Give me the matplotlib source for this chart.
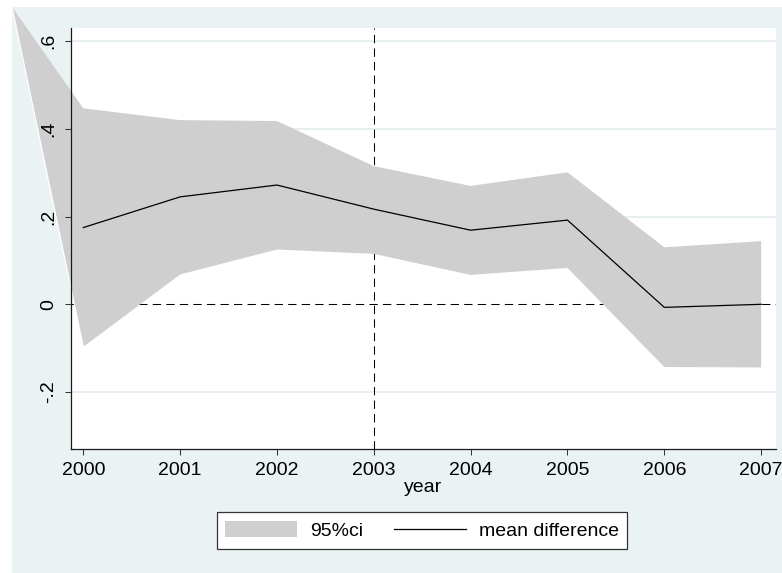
import matplotlib
matplotlib.use("Agg")
import matplotlib.pyplot as plt
from matplotlib.patches import Rectangle, Patch
from matplotlib.lines import Line2D

plt.rcParams['font.family'] = ['Liberation Sans', 'DejaVu Sans']

# Event-study estimates by year
years = [2000, 2001, 2002, 2003, 2004, 2005, 2006, 2007]
mean_diff = [0.175, 0.245, 0.272, 0.217, 0.169, 0.192, -0.007, 0.000]
ci_upper = [0.447, 0.420, 0.418, 0.315, 0.270, 0.301, 0.130, 0.144]
ci_lower = [-0.097, 0.068, 0.125, 0.115, 0.067, 0.083, -0.143, -0.144]

y_ticks = [-0.2, 0, 0.2, 0.4, 0.6]
y_tick_labels = ['-.2', '0', '.2', '.4', '.6']
ref_year = 2003
ref_level = 0

legend_labels = ['95%ci', 'mean difference']

W, H = 782, 573
REGION_BG = '#eaf2f3'
BAND = '#cfcfcf'
GRID = '#e3ebee'

fig = plt.figure(figsize=(W / 100, H / 100), dpi=100)
fig.patch.set_facecolor('white')

# Graph region background
fig.add_artist(Rectangle((12 / W, 0), 1 - 12 / W, 1 - 7 / H,
                         transform=fig.transFigure, facecolor=REGION_BG,
                         edgecolor='none', zorder=-1))

ax = fig.add_axes([70.7 / W, 1 - 449 / H, (775.7 - 70.7) / W, (449 - 27.7) / H])
ax.set_facecolor('white')
ax.set_xlim(1999.87, 2007.15)
ax.set_ylim(-0.330, 0.6308)
ax.set_axisbelow(False)  # tick labels stay above the band

for side in ('top', 'right'):
    ax.spines[side].set_visible(False)
for side in ('left', 'bottom'):
    ax.spines[side].set_color('#1a1a1a')
    ax.spines[side].set_linewidth(0.9)

ax.set_xticks(years)
ax.set_xticklabels([str(y) for y in years], fontsize=14)
ax.set_yticks(y_ticks)
ax.set_yticklabels(y_tick_labels, fontsize=14, rotation=90, va='center')
ax.tick_params(axis='both', length=4.5, width=0.75, color='#333333', pad=5)

# Horizontal grid lines behind everything else
for yt in y_ticks:
    if yt != ref_level:
        ax.axhline(yt, color=GRID, lw=1.2, zorder=0.5)

ax.set_xlabel('year', fontsize=14, labelpad=0)

# Reference lines
ax.axhline(ref_level, color='black', lw=0.75, dashes=(8, 5), zorder=1)
ax.axvline(ref_year, color='black', lw=0.75, dashes=(8, 5), zorder=1)

# Confidence band; its outline starts from the corner of the graph region
corner = ax.transData.inverted().transform(
    fig.transFigure.transform((12 / W, 1 - 7 / H)))
poly_x = [corner[0]] + years + years[::-1] + [corner[0]]
poly_y = [corner[1]] + ci_upper + ci_lower[::-1] + [corner[1]]
ax.fill(poly_x, poly_y, color=BAND, lw=0, zorder=2, clip_on=False)
ax.plot([corner[0], years[0]], [corner[1], ci_lower[0]], color='white',
        lw=0.9, zorder=2.1, clip_on=False)

# Point estimates
ax.plot(years, mean_diff, color='black', lw=0.9, zorder=3)

handles = [Patch(facecolor=BAND, edgecolor='none'),
           Line2D([], [], color='black', lw=0.9)]
leg = fig.legend(handles, legend_labels, ncol=2, loc='center',
                 bbox_to_anchor=(422 / W, 1 - 530.5 / H), fontsize=14,
                 frameon=True, fancybox=False, shadow=False, framealpha=1,
                 edgecolor='#333333', handlelength=3.7, handleheight=0.88,
                 handletextpad=0.65, columnspacing=1.6, borderpad=0.45,
                 borderaxespad=0)
leg.get_frame().set_linewidth(0.9)

fig.savefig('out.png', dpi=100)
